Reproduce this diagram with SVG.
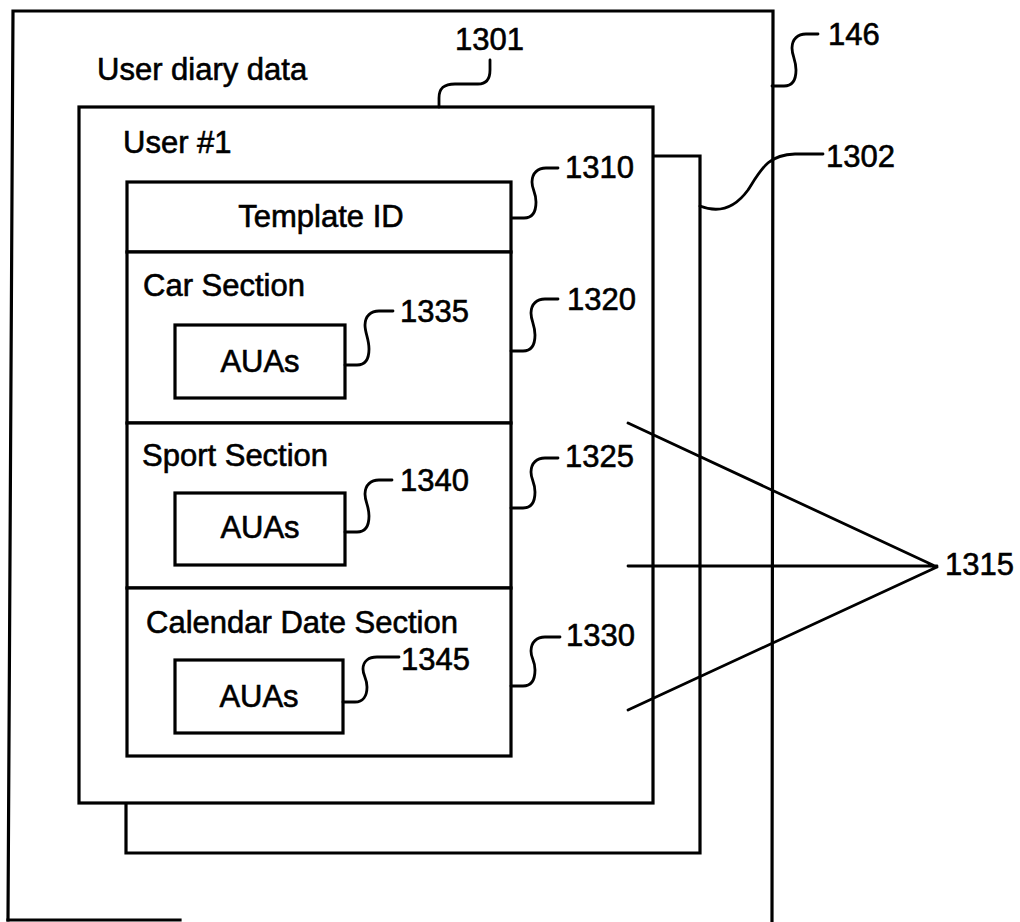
<svg xmlns="http://www.w3.org/2000/svg" width="1020" height="922" viewBox="0 0 1020 922">
<style>
.ln{fill:none;stroke:#000;stroke-width:3.2;stroke-linejoin:miter;stroke-linecap:square}
.box{fill:#fff;stroke:#000;stroke-width:3.2}
.ld{fill:none;stroke:#000;stroke-width:2.8;stroke-linecap:round}
text{font-family:"Liberation Sans",Arial,sans-serif;font-size:31px;fill:#000;stroke:#000;stroke-width:0.6}
.c{text-anchor:middle}
</style>
<rect width="1020" height="922" fill="#fff"/>
<g id="frame-146">
<path class="ln" d="M8,920 L13,11 L773,11 L772,922"/>
<path class="ln" d="M8,920 H180"/>
<text x="97" y="80">User diary data</text>
</g>
<g id="user-1302">
<path class="ln" d="M653,156 H700 V853 H126 V803"/>
</g>
<g id="user-1301">
<rect class="box" x="79" y="107" width="574" height="696"/>
<text x="123" y="153">User #1</text>
</g>
<g id="template-1310">
<rect class="box" x="127" y="182" width="384" height="70"/>
<text class="c" x="321" y="227">Template ID</text>
</g>
<g id="car-1320">
<rect class="box" x="127" y="252" width="384" height="171"/>
<text x="143" y="296">Car Section</text>
</g>
<g id="sport-1325">
<rect class="box" x="127" y="423" width="384" height="165"/>
<text x="142" y="466">Sport Section</text>
</g>
<g id="calendar-1330">
<rect class="box" x="127" y="588" width="384" height="168"/>
<text x="146" y="633">Calendar Date Section</text>
</g>
<g id="auas-1335">
<rect class="box" x="175" y="325" width="170" height="73"/>
<text class="c" x="260" y="372">AUAs</text>
</g>
<g id="auas-1340">
<rect class="box" x="175" y="493" width="170" height="72"/>
<text class="c" x="260" y="538">AUAs</text>
</g>
<g id="auas-1345">
<rect class="box" x="175" y="660" width="168" height="73"/>
<text class="c" x="259" y="707">AUAs</text>
</g>
<g id="connectors">
<path class="ld" d="M439,107 V98 C439,88 444,84 455,84 H478 C487,84 490,78 490,70 V60"/>
<path class="ld" d="M772,86 H784 C792,86 796,80 796,70 C796,60 792,56 792,48 C792,39 798,34 806,34 H818"/>
<path class="ld" d="M700,206 C715,212 732,212 748,190 C762,168 768,155 795,154 L823,154"/>
<path class="ld" d="M512,218 H524 C532,218 536,212 536,202 C536,192 532,190 532,182 C532,173 538,168 546,168 H558"/>
<path class="ld" d="M511,351 H523 C531,351 535,345 535,335 C535,325 531,321 531,313 C531,304 537,299 545,299 H558"/>
<path class="ld" d="M511,508 H523 C531,508 535,502 535,492 C535,482 531,480 531,472 C531,463 537,458 545,458 H558"/>
<path class="ld" d="M511,686 H523 C531,686 535,680 535,670 C535,660 531,659 531,651 C531,642 537,637 545,637 H560"/>
<path class="ld" d="M345,365 H357 C365,365 369,359 369,349 C369,339 365,333 365,325 C365,316 371,311 379,311 H393"/>
<path class="ld" d="M345,532 H357 C365,532 369,526 369,516 C369,506 365,502 365,494 C365,485 371,480 379,480 H392"/>
<path class="ld" d="M343,702 H355 C363,702 367,696 367,687 C367,678 363,676 363,669 C363,661 369,657 377,657 H399"/>
<path class="ld" d="M628,423 L937,567 M628,566 H937 M628,710 L937,567"/>
</g>
<g id="labels">
<text x="455" y="50">1301</text>
<text x="828" y="45">146</text>
<text x="826" y="167">1302</text>
<text x="565" y="178">1310</text>
<text x="567" y="310">1320</text>
<text x="400" y="322">1335</text>
<text x="565" y="467">1325</text>
<text x="400" y="491">1340</text>
<text x="945" y="575">1315</text>
<text x="566" y="646">1330</text>
<text x="401" y="670">1345</text>
</g>
</svg>
